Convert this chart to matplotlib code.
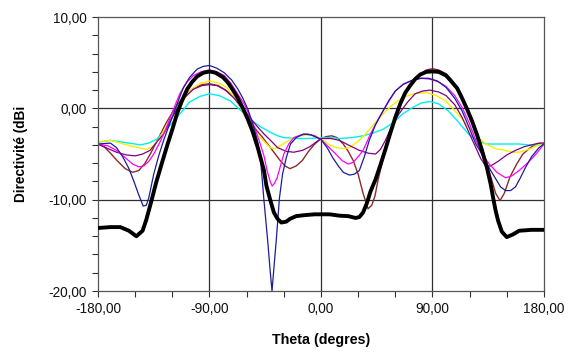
import matplotlib
matplotlib.use('Agg')
import matplotlib.pyplot as plt
from matplotlib.ticker import MultipleLocator

plt.rcParams['font.family'] = ['Liberation Sans', 'DejaVu Sans']

# theta (deg) / directivity (dBi), one pair per series
black_t = [-180, -170, -162, -155, -149, -144, -141, -137, -133, -128, -124, -120, -116, -112, -108,
           -104, -100, -95, -90, -85, -79, -75, -71, -67, -63, -59, -55, -51, -49, -46, -44, -41, -38,
           -35, -32, -28, -25, -20, -14, -5, 0, 7, 15, 22, 28, 31, 34, 37, 40, 44, 48, 52, 56, 60, 64,
           68, 72, 76, 80, 85, 90, 95, 101, 105, 110, 114, 118, 122, 126, 130, 134, 137, 139, 141, 143,
           146, 150, 155, 160, 170, 180]
black_v = [-13.1, -13.0, -13.0, -13.4, -14.0, -13.4, -12.2, -10.2, -8.1, -5.8, -4.0, -2.3, -0.5, 0.9,
           2.1, 2.9, 3.5, 3.9, 4.05, 3.9, 3.4, 2.8, 2.0, 1.1, 0.0, -1.2, -2.6, -4.3, -5.3, -6.8, -8.5,
           -10.0, -11.4, -12.1, -12.5, -12.4, -12.1, -11.8, -11.7, -11.6, -11.6, -11.6, -11.75, -11.8,
           -12.0, -11.9, -11.4, -10.4, -9.1, -7.8, -6.2, -4.5, -2.7, -1.0, 0.5, 1.7, 2.5, 3.2, 3.7, 4.0,
           4.05, 4.0, 3.6, 3.0, 2.2, 1.1, -0.1, -1.4, -2.9, -4.6, -6.5, -8.3, -9.8, -11.2, -12.3, -13.5,
           -14.1, -13.8, -13.4, -13.3, -13.3]

blue_t = [-180, -170, -165, -160, -155, -151, -147, -143.5, -141, -139, -135, -131, -127, -123, -119,
          -115, -111, -106, -100, -95, -90, -84, -78, -72, -67, -63, -59, -55, -51, -48.5, -46, -43,
          -41, -39.5, -38, -36, -33.5, -31, -28, -24.6, -20, -14, -8, 0, 5, 9.5, 14, 18, 23, 27, 31,
          35, 39, 44, 50, 55, 60, 66, 74, 81, 87, 94, 101, 108, 114, 119, 125, 129, 133, 137, 141,
          145, 149, 153, 157, 161, 165, 170, 176, 180]
blue_v = [-3.9, -3.8, -4.3, -5.3, -6.6, -8.0, -9.5, -10.7, -10.6, -9.8, -7.2, -5.2, -3.5, -2.0, -0.6,
          0.9, 2.3, 3.4, 4.3, 4.6, 4.7, 4.4, 3.9, 3.1, 2.1, 1.1, -0.1, -1.7, -3.7, -6.0, -10.1, -14.5,
          -17.8, -20.0, -17.5, -14.3, -9.8, -7.2, -5.4, -3.9, -3.2, -2.8, -2.9, -3.4, -4.3, -5.4, -6.3,
          -7.0, -7.3, -7.2, -6.8, -5.3, -3.5, -1.8, -0.3, 0.9, 1.9, 2.6, 3.1, 3.3, 3.3, 3.0, 2.3, 1.1,
          -0.3, -1.9, -3.9, -4.8, -5.8, -6.8, -7.7, -8.6, -9.0, -9.0, -8.6, -7.6, -6.5, -5.3, -4.3, -3.9]

magenta_t = [-180, -172, -165, -158, -152, -147, -143, -139, -135, -130, -125, -120, -114, -108, -103,
             -97, -90, -84, -78, -73, -68, -62, -57, -53, -49, -46, -43.5, -41, -39.4, -37.5, -35.4,
             -32.5, -30, -26, -22, -16, -11, -5, 0, 6, 12, 17, 22, 26, 30, 34, 40, 47, 54, 60, 67, 74,
             81, 88, 95, 101, 108, 114, 120, 125, 130, 136, 142, 149, 154, 160, 165, 171, 176, 180]
magenta_v = [-3.9, -4.1, -4.6, -5.4, -6.1, -6.4, -6.3, -5.8, -5.0, -3.7, -2.2, -0.4, 1.6, 2.9, 3.6,
             4.0, 4.2, 4.0, 3.6, 2.8, 1.75, 0.5, -1.0, -2.3, -3.9, -5.2, -6.8, -8.0, -8.5, -8.2, -7.6,
             -6.2, -5.0, -3.9, -3.2, -2.9, -2.8, -3.0, -3.4, -4.2, -5.0, -5.7, -6.1, -5.9, -5.3, -4.6,
             -2.8, -1.0, 0.6, 1.9, 2.7, 3.1, 3.3, 3.2, 2.9, 2.4, 1.4, 0.1, -1.7, -3.5, -5.0, -6.1, -7.0,
             -7.6, -7.4, -6.8, -6.2, -5.4, -4.6, -3.9]

yellow_t = [-180, -170, -162, -154, -147, -141, -136, -130, -125, -119, -112, -106, -98, -90, -83, -76,
            -69, -62, -57, -52, -46, -41, -37, -33, -27, -22, -16, -11, -5, 0, 6, 12, 18, 23, 30, 36,
            43, 50, 58, 66, 75, 85, 93, 101, 109, 117, 125, 133, 141, 149, 155, 160, 165, 171, 176, 180]
yellow_v = [-3.7, -3.5, -3.8, -4.1, -4.3, -4.5, -4.2, -3.2, -2.0, -0.6, 0.7, 1.9, 2.7, 3.0, 2.8, 2.3,
            1.0, -0.6, -1.7, -2.8, -3.6, -4.3, -4.4, -4.1, -3.6, -3.2, -3.0, -2.9, -3.0, -3.3, -3.9,
            -4.3, -4.4, -4.3, -3.6, -2.8, -1.7, -0.6, 0.4, 1.2, 1.6, 1.75, 1.4, 0.8, -0.4, -1.7, -2.9,
            -3.9, -4.4, -4.6, -4.8, -4.8, -4.6, -4.3, -4.0, -3.8]

cyan_t = [-180, -170, -160, -150, -146, -139, -133, -126, -119, -112, -106, -98, -90, -82, -73, -65,
          -57, -49, -41, -35, -30, -20, -10, 0, 8, 15, 25, 34, 42, 50, 58, 66, 74, 81, 88, 95, 103,
          111, 119, 126, 133, 142, 152, 160, 168, 174, 180]
cyan_v = [-3.7, -3.5, -3.7, -3.9, -4.0, -3.8, -3.4, -2.5, -1.4, -0.3, 0.7, 1.3, 1.6, 1.4, 0.8, -0.2,
          -1.2, -2.0, -2.6, -3.0, -3.2, -3.3, -3.3, -3.2, -3.2, -3.3, -3.2, -3.0, -2.7, -2.3, -1.6,
          -0.6, 0.1, 0.6, 0.75, 0.5, -0.3, -1.5, -2.8, -3.5, -3.9, -3.9, -3.9, -3.9, -4.0, -4.0, -3.9]

purple_t = [-180, -172, -165, -157, -150, -144, -138, -132, -127, -121, -116, -110, -103, -96, -90,
            -84, -77, -70, -64, -59.7, -55, -50, -46, -40, -35, -28, -22, -15, -9, -4, 0, 8, 15, 22,
            31, 38, 44, 48, 52, 57, 63, 70, 76, 82, 88, 95, 101, 108, 114, 120, 125, 129, 133, 137,
            143, 150, 157, 164, 170, 176, 180]
purple_v = [-3.9, -4.4, -4.8, -5.1, -5.2, -5.0, -4.6, -3.6, -2.8, -1.2, 0.0, 1.2, 2.1, 2.5, 2.6, 2.5,
            2.0, 1.1, 0.1, -0.6, -1.4, -2.2, -2.8, -3.6, -4.3, -4.7, -4.8, -4.6, -4.2, -3.7, -3.3, -3.3,
            -3.5, -4.0, -4.6, -4.9, -5.0, -4.5, -3.5, -2.0, -0.6, 0.7, 1.6, 1.9, 2.0, 1.8, 1.4, 0.4,
            -1.0, -2.8, -4.3, -5.5, -6.3, -6.3, -5.8, -5.1, -4.6, -4.2, -4.0, -3.8, -3.8]

maroon_t = [-180, -175, -170, -164, -158, -152, -147, -142, -137, -131, -125, -118, -111, -103, -96,
            -90, -83, -77, -70, -64, -58, -52, -47, -43, -38, -33, -29, -25, -20, -15, -10, -5, 0, 4,
            8.6, 13, 18, 22, 26, 30, 34, 38, 41, 43.6, 46, 50, 54, 58, 62, 66, 70, 75, 80, 85, 90, 95,
            101, 105, 110, 114, 118, 122, 126, 130, 134, 138, 141, 144.5, 148, 152.6, 158, 163, 169,
            174, 180]
maroon_v = [-3.9, -4.2, -4.9, -5.8, -6.6, -7.0, -6.8, -6.0, -4.8, -3.2, -1.6, 0.0, 1.3, 2.2, 2.6, 2.7,
            2.5, 2.0, 1.2, 0.0, -1.2, -2.4, -3.2, -3.9, -4.8, -5.7, -6.3, -6.6, -6.3, -5.7, -4.7, -3.9,
            -3.3, -3.1, -3.0, -3.2, -3.9, -4.7, -5.7, -7.2, -9.3, -11.0, -10.6, -9.6, -7.9, -5.6, -3.6,
            -1.8, -0.2, 1.1, 2.1, 3.0, 3.7, 4.2, 4.35, 4.2, 3.8, 3.2, 2.3, 1.2, 0.0, -1.3, -2.7, -4.3,
            -6.1, -7.9, -9.3, -10.1, -9.3, -7.5, -6.1, -5.0, -4.3, -3.9, -3.8]

x_ticks = [-180, -90, 0, 90, 180]
x_labels = ['-180,00', '-90,00', '0,00', '90,00', '180,00']
y_ticks = [-20, -10, 0, 10]
y_labels = ['-20,00', '-10,00', '0,00', '10,00']

fig = plt.figure(figsize=(5.71, 3.53), dpi=100)
ax = fig.add_axes([0.1716, 0.1756, 0.781, 0.776])

# grid lines only at the major ticks
for gx in [-90, 0, 90]:
    ax.axvline(gx, color='#303030', lw=0.9, zorder=1)
for gy in [-10, 0]:
    ax.axhline(gy, color='#303030', lw=0.9, zorder=1)

ax.plot(maroon_t, maroon_v, color='#8c2a2a', lw=1.0, zorder=2)
ax.plot(cyan_t, cyan_v, color='#00f0f0', lw=1.0, zorder=2)
ax.plot(yellow_t, yellow_v, color='#f5f000', lw=1.0, zorder=2)
ax.plot(purple_t, purple_v, color='#800080', lw=0.9, zorder=2)
ax.plot(magenta_t, magenta_v, color='#ff00ff', lw=0.9, zorder=2)
ax.plot(blue_t, blue_v, color='#1c1c98', lw=0.9, zorder=2)
ax.plot(black_t, black_v, color='black', lw=2.8, zorder=3, solid_joinstyle='round')

ax.set_xlim(-180, 180)
ax.set_ylim(-20, 10)
ax.set_xticks(x_ticks)
ax.set_xticklabels(x_labels)
ax.set_yticks(y_ticks)
ax.set_yticklabels(y_labels)
ax.xaxis.set_minor_locator(MultipleLocator(30))
ax.yaxis.set_minor_locator(MultipleLocator(2))
ax.tick_params(which='both', direction='out', color='#303030', width=0.8, labelsize=9.8,
               labelcolor='#111111')
ax.tick_params(which='major', length=4, pad=4)
ax.tick_params(which='minor', length=4)
for s in ax.spines.values():
    s.set_color('#555555')
    s.set_linewidth(0.9)

ax.set_xlabel('Theta (degres)', fontsize=10.3, fontweight='bold')
ax.set_ylabel('Directivité (dBi', fontsize=9.8, fontweight='bold')
ax.xaxis.set_label_coords(0.5, -0.155)
ax.yaxis.set_label_coords(-0.158, 0.5)

fig.savefig('out.png', dpi=100)
